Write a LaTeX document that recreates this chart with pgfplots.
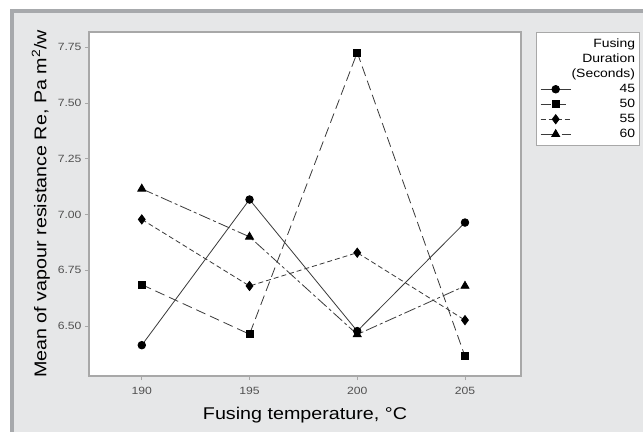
\documentclass[border=0pt]{standalone}
\usepackage{pgfplots}
\pgfplotsset{compat=1.18}
\usepackage{fontspec}
\setmainfont{Liberation Sans}
\newfontfamily\widesans[FakeStretch=1.16]{Liberation Sans}
\definecolor{bgpanel}{HTML}{E6E7E8}
\definecolor{bgframe}{HTML}{A7A9AC}
\definecolor{axframe}{HTML}{A8A8A8}
\definecolor{ticktext}{HTML}{505050}
\definecolor{lineg}{HTML}{3A3A3A}

\begin{document}
\begin{tikzpicture}[x=1pt,y=1pt]
\fill[white] (0,0) rectangle (643,432);
\fill[bgpanel] (10,0) rectangle (643,423);
\fill[bgframe] (10,0) rectangle (14,423);
\fill[bgframe] (10,419) rectangle (643,423);
\useasboundingbox (0,0) rectangle (643,432);
\begin{axis}[
    at={(89pt,56pt)}, anchor=south west,
    scale only axis, width=432pt, height=344pt,
    xmin=187.55, xmax=207.6, ymin=6.277, ymax=7.817,
    xtick={190,195,200,205},
    ytick={6.5,6.75,7,7.25,7.5,7.75},
    yticklabel style={/pgf/number format/.cd,fixed,fixed zerofill,precision=2},
    /pgf/number format/assume math mode=true,
    tick label style={font=\widesans\fontsize{10.5}{11}\selectfont, text=ticktext},
    xticklabel style={yshift=-4pt},
    tick align=outside, tick pos=left,
    major tick length=4pt,
    tick style={axframe, line width=0.6pt},
    axis line style={axframe, line width=1.2pt},
    axis background/.style={fill=white},
    xlabel={Fusing temperature, °C},
    ylabel={Mean of vapour resistance Re, Pa m\textsuperscript{2}/w},
    label style={font=\widesans\fontsize{17}{18}\selectfont},
    xlabel style={yshift=-5pt},
    ylabel style={yshift=1pt},
    legend cell align=right,
    legend style={at={(1.0345,0.999)}, anchor=north west,
      draw=axframe, line width=0.8pt, fill=white,
      font=\widesans\fontsize{12}{13}\selectfont,
      row sep=0pt, inner xsep=4pt, inner ysep=4pt,
      nodes={inner sep=0.5pt, text height=10.5pt, text depth=3.5pt}},
    legend image code/.code={\draw[mark repeat=2,mark phase=2,#1]
      plot coordinates {(0pt,0pt)(15pt,0pt)(30pt,0pt)};},
  ]
\addlegendimage{empty legend}\addlegendentry{Fusing}
\addlegendimage{empty legend}\addlegendentry{Duration}
\addlegendimage{empty legend}\addlegendentry{(Seconds)}
\addplot[lineg, line width=0.8pt, mark=*, mark size=3.8pt,
  mark options={solid, fill=black, draw=black}] coordinates
  {(190,6.415)(195,7.067)(200,6.478)(205,6.964)};
\addlegendentry{45}
\addplot[lineg, line width=0.8pt, dash pattern=on 10pt off 5pt, mark=square*, mark size=3.5pt,
  mark options={solid, fill=black, draw=black}] coordinates
  {(190,6.686)(195,6.464)(200,7.725)(205,6.365)};
\addlegendentry{50}
\addplot[lineg, line width=0.8pt, dash pattern=on 5pt off 3pt, mark=diamond*, mark size=4.6pt,
  mark options={solid, fill=black, draw=black}] coordinates
  {(190,6.978)(195,6.680)(200,6.829)(205,6.527)};
\addlegendentry{55}
\addplot[lineg, line width=0.8pt, dash pattern=on 12pt off 3pt on 3pt off 3pt, mark=triangle*, mark size=4.6pt,
  mark options={solid, fill=black, draw=black}] coordinates
  {(190,7.115)(195,6.900)(200,6.463)(205,6.680)};
\addlegendentry{60}
\end{axis}
\end{tikzpicture}
\end{document}
